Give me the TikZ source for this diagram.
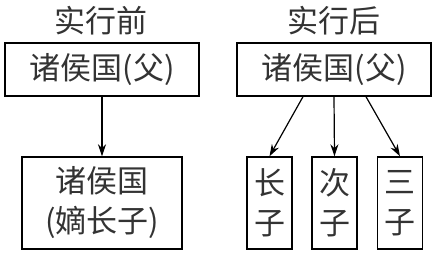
\documentclass[tikz,border=0pt]{standalone}
\usepackage{fontspec}
\setmainfont{Noto Sans CJK SC}
\usetikzlibrary{arrows.meta}
\tikzset{
  box/.style={draw, line width=1.4pt, inner sep=0pt, align=center},
  son/.style={box, minimum width=45pt, minimum height=92pt},
  link/.style={-{Stealth[length=12pt,width=8pt]}, line width=1.2pt}
}
\begin{document}
\begin{tikzpicture}[x=1pt, y=1pt, every node/.style={font=\fontsize{31}{40}\selectfont, text=black!80}]
      \useasboundingbox (0,0) rectangle (436,253);

      \node (T1) at (101,232) {实行前};
      \node (T2) at (334,232) {实行后};

      \node[box, minimum width=194pt, minimum height=53pt] (F1) at (102,183.5) {诸侯国(父)};
      \node[box, minimum width=160pt, minimum height=92pt] (S1) at (102,50) {诸侯国\\(嫡长子)};

      \node[box, minimum width=194pt, minimum height=53pt] (F2) at (334,183.5) {诸侯国(父)};
      \node[son] (S2) at (269.5,50) {长\\子};
      \node[son] (S3) at (334.5,50) {次\\子};
      \node[son] (S4) at (400,50) {三\\子};

      \draw[link] (F1) -- (S1);
      \draw[link] ([xshift=-31pt]F2.south) -- (S2.north);
      \draw[link] (F2.south) -- (S3.north);
      \draw[link] ([xshift=32pt]F2.south) -- (S4.north);
    \end{tikzpicture}
\end{document}
